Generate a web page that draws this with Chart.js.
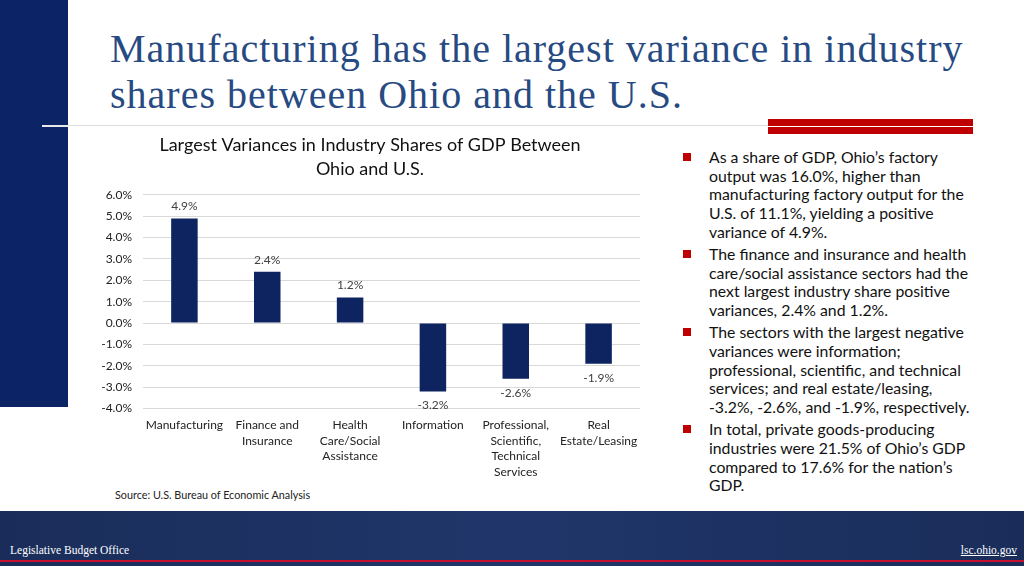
<!DOCTYPE html>
<html lang="en">
  <head>
    <meta charset="UTF-8" />
    <title>Industry share variances, Ohio vs U.S.</title>
    <script src="https://cdn.jsdelivr.net/npm/chart.js"></script>
    <style>
      body { margin: 0; width: 1024px; height: 576px; position: relative; overflow: hidden; background: #fff; font-family: Lato, "Open Sans", sans-serif; }
      .leftbar { position: absolute; left: 0; top: 0; width: 68px; height: 407px; background: #0c2466; }
      .rule { position: absolute; left: 68px; top: 125px; width: 702px; height: 1px; background: #dcdcdc; }
      .rule-w { position: absolute; left: 42px; top: 125px; width: 26px; height: 2px; background: #e8e8e8; }
      .redbar { position: absolute; left: 768px; width: 205px; height: 7px; background: #c00000; }
      h1 { position: absolute; left: 110px; top: 26px; margin: 0; font-family: "Liberation Serif", serif; font-weight: normal; font-size: 40px; letter-spacing: 1px; line-height: 46px; color: #274a82; white-space: nowrap; }
      #wrap { position: absolute; left: 100px; top: 130px; width: 548px; height: 351px; }
      .source { position: absolute; left: 115px; top: 488px; font-size: 10.8px; color: #222; }
      ul { position: absolute; left: 683px; top: 148px; margin: 0; padding: 0; list-style: none; font-size: 15.8px; line-height: 18.7px; color: #111; white-space: nowrap; }
      li { position: relative; padding-left: 26px; margin-bottom: 3.5px; }
      li::before { content: ""; position: absolute; left: 0; top: 5px; width: 8px; height: 8px; background: #c00000; }
      .footer { position: absolute; left: 0; top: 511px; width: 1024px; height: 55px; background: linear-gradient(90deg, #1a2d5a, #20366a 50%, #1a2d5a); }
      .footer .red { position: absolute; left: 0; top: 49px; width: 1024px; height: 2px; background: #c8102e; }
      .footer span { position: absolute; top: 33px; font-family: "Liberation Serif", serif; font-size: 11.5px; color: #fff; }
    </style>
  </head>
  <body>
    <div class="leftbar"></div>
    <div class="rule"></div>
    <div class="rule-w"></div>
    <div class="redbar" style="top:119px"></div>
    <div class="redbar" style="top:127px"></div>

    <h1>Manufacturing has the largest variance in industry<br />shares between Ohio and the U.S.</h1>

    <div id="wrap"><canvas id="myChart" width="548" height="351"></canvas></div>
    <div class="source">Source: U.S. Bureau of Economic Analysis</div>

    <ul>
      <li>As a share of GDP, Ohio’s factory<br />output was 16.0%, higher than<br />manufacturing factory output for the<br />U.S. of 11.1%, yielding a positive<br />variance of 4.9%.</li>
      <li>The finance and insurance and health<br />care/social assistance sectors had the<br />next largest industry share positive<br />variances, 2.4% and 1.2%.</li>
      <li>The sectors with the largest negative<br />variances were information;<br />professional, scientific, and technical<br />services; and real estate/leasing,<br />-3.2%, -2.6%, and -1.9%, respectively.</li>
      <li>In total, private goods-producing<br />industries were 21.5% of Ohio’s GDP<br />compared to 17.6% for the nation’s<br />GDP.</li>
    </ul>

    <div class="footer">
      <div class="red"></div>
      <span style="left:10px">Legislative Budget Office</span>
      <span style="right:7px; text-decoration: underline">lsc.ohio.gov</span>
    </div>

    <script>
      const industries = [
        "Manufacturing",
        ["Finance and", "Insurance"],
        ["Health", "Care/Social", "Assistance"],
        "Information",
        ["Professional,", "Scientific,", "Technical", "Services"],
        ["Real", "Estate/Leasing"],
      ];
      const variance = [4.9, 2.4, 1.2, -3.2, -2.6, -1.9];
      const yTicks = [6, 5, 4, 3, 2, 1, 0, -1, -2, -3, -4];

      const font = "Lato, 'Open Sans', sans-serif";

      // value labels above/below each bar
      const barLabels = {
        id: "barLabels",
        afterDatasetsDraw(chart) {
          const ctx = chart.ctx;
          const meta = chart.getDatasetMeta(0);
          ctx.save();
          ctx.font = "12px " + font;
          ctx.fillStyle = "#404040";
          ctx.textAlign = "center";
          ctx.textBaseline = "middle";
          meta.data.forEach((bar, i) => {
            const v = variance[i];
            const y = v >= 0 ? bar.y - 12 : bar.y + 14;
            ctx.fillText(v.toFixed(1) + "%", bar.x, y);
          });
          ctx.restore();
        },
      };

      const ctx = document.getElementById("myChart").getContext("2d");
      new Chart(ctx, {
        type: "bar",
        data: {
          labels: industries,
          datasets: [
            {
              data: variance,
              backgroundColor: "#0d2461",
              barPercentage: 0.32,
              categoryPercentage: 1,
            },
          ],
        },
        options: {
          responsive: false,
          animation: false,
          layout: { padding: { top: 3, right: 8, left: 0, bottom: 0 } },
          plugins: {
            legend: { display: false },
            tooltip: { enabled: false },
            title: {
              display: true,
              text: ["Largest Variances in Industry Shares of GDP Between", "Ohio and U.S."],
              font: { family: font, size: 18, weight: "normal", lineHeight: 1.33 },
              color: "#111",
              padding: { top: 0, bottom: 14 },
            },
          },
          scales: {
            x: {
              grid: { display: false },
              border: { display: false },
              ticks: {
                font: { family: font, size: 12, lineHeight: 1.3 },
                color: "#222",
                padding: 1,
                maxRotation: 0,
                autoSkip: false,
              },
            },
            y: {
              min: -4,
              max: 6,
              afterFit: (s) => { s.width = 43; },
              afterBuildTicks: (s) => { s.ticks = yTicks.map((v) => ({ value: v })); },
              grid: { color: "#d9d9d9", drawTicks: false },
              border: { display: false },
              ticks: {
                font: { family: font, size: 12 },
                color: "#222",
                padding: 11,
                callback: (v) => v.toFixed(1) + "%",
              },
            },
          },
        },
        plugins: [barLabels],
      });
    </script>
  </body>
</html>
